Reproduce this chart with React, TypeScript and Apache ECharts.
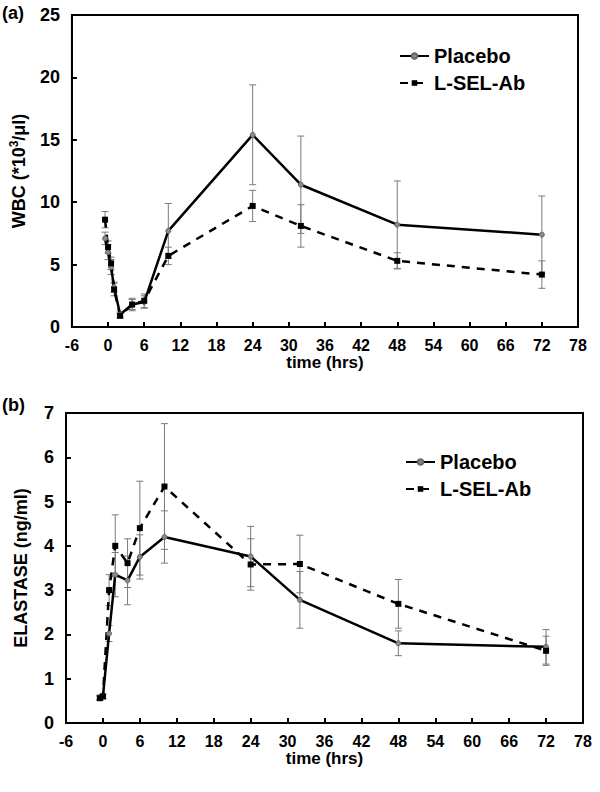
import React, { useEffect, useRef } from "react";
import * as echarts from "echarts";

const FONT = "'Liberation Sans', Arial, Helvetica, sans-serif";

// Panel (a): WBC
const wbcHours = [-0.5, 0, 0.5, 1, 2, 4, 6, 10, 24, 32, 48, 72];
const wbcPlacebo = [7.1, 6.0, 4.8, 3.2, 1.0, 1.8, 2.0, 7.7, 15.4, 11.4, 8.2, 7.4];
const wbcPlaceboErr = [0.5, 0.6, 0.6, 0.4, 0.2, 0.4, 0.5, 2.2, 4.0, 3.9, 3.5, 3.1];
const wbcLsel = [8.6, 6.4, 5.1, 3.0, 0.9, 1.8, 2.1, 5.7, 9.7, 8.1, 5.3, 4.2];
const wbcLselErr = [0.65, 0.5, 0.5, 0.5, 0.2, 0.5, 0.55, 0.7, 1.25, 1.7, 0.65, 1.1];

// Panel (b): Elastase
const elaHours = [-0.5, 0, 1, 2, 4, 6, 10, 24, 32, 48, 72];
const elaPlacebo = [0.58, 0.6, 2.02, 3.35, 3.22, 3.75, 4.2, 3.76, 2.78, 1.8, 1.72];
const elaPlaceboErr = [0.05, 0.05, 0.18, 0.5, 0.55, 0.5, 0.59, 0.68, 0.64, 0.28, 0.39];
const elaLsel = [0.56, 0.6, 3.0, 4.0, 3.61, 4.4, 5.34, 3.58, 3.59, 2.69, 1.63];
const elaLselErr = [0.05, 0.05, 0.35, 0.7, 0.55, 1.06, 1.42, 0.58, 0.65, 0.55, 0.33];

const seriesNames = ["Placebo", "L-SEL-Ab"];

const pairs = (x: number[], y: number[]) => x.map((t, i) => [t, y[i]]);
const errs = (x: number[], y: number[], e: number[]) =>
  x.map((t, i) => [t, y[i] - e[i], y[i] + e[i]]);

const renderErr = (_params: any, api: any) => {
  const x = api.value(0);
  const top = api.coord([x, api.value(2)]);
  const bot = api.coord([x, api.value(1)]);
  const c = 3.5;
  const style = { stroke: "#7a7a7a", lineWidth: 1 };
  return {
    type: "group",
    children: [
      { type: "line", shape: { x1: top[0], y1: top[1], x2: bot[0], y2: bot[1] }, style },
      { type: "line", shape: { x1: top[0] - c, y1: top[1], x2: top[0] + c, y2: top[1] }, style },
      { type: "line", shape: { x1: bot[0] - c, y1: bot[1], x2: bot[0] + c, y2: bot[1] }, style },
    ],
  };
};

const xAxisFor = (gridIndex: number) => ({
  type: "value",
  gridIndex,
  min: -6,
  max: 78,
  interval: 6,
  name: "time (hrs)",
  nameLocation: "middle",
  nameGap: 25,
  nameTextStyle: { color: "#000", fontWeight: "bold", fontSize: 17, fontFamily: FONT },
  axisLine: { show: true, onZero: false, lineStyle: { color: "#000", width: 2 } },
  axisTick: { show: true, inside: true, length: 5, lineStyle: { color: "#000", width: 2 } },
  axisLabel: { color: "#000", fontWeight: "bold", fontSize: 16, margin: 10, fontFamily: FONT },
  splitLine: { show: false },
});

const yAxisFor = (gridIndex: number, max: number, interval: number, name: string, nameGap: number, rich?: any) => ({
  type: "value",
  gridIndex,
  min: 0,
  max,
  interval,
  name,
  nameLocation: "middle",
  nameGap,
  nameTextStyle: { color: "#000", fontWeight: "bold", fontSize: 18, fontFamily: FONT, lineHeight: 21, rich },
  axisLine: { show: true, onZero: false, lineStyle: { color: "#000", width: 2 } },
  axisTick: { show: true, inside: true, length: 5, lineStyle: { color: "#000", width: 2 } },
  axisLabel: { color: "#000", fontWeight: "bold", fontSize: 18, margin: 12, fontFamily: FONT },
  splitLine: { show: false },
});

const lineSeries = (name: string, data: number[][], idx: number) => {
  const placebo = name === seriesNames[0];
  return {
    name,
    type: "line",
    xAxisIndex: idx,
    yAxisIndex: idx,
    data,
    z: 3,
    symbol: placebo ? "circle" : "rect",
    symbolSize: placebo ? 5 : 6,
    itemStyle: placebo ? { color: "#8a8a8a", borderColor: "#666", borderWidth: 1 } : { color: "#000" },
    lineStyle: { color: "#000", width: 2.5, type: placebo ? "solid" : [8, 7] },
  };
};

const legendFor = (left: number, top: number) => ({
  data: seriesNames,
  orient: "vertical",
  left,
  top,
  padding: 0,
  itemWidth: 29,
  itemHeight: 7,
  itemGap: 7,
  textStyle: { color: "#000", fontWeight: "bold", fontSize: 20, lineHeight: 20, fontFamily: FONT },
});

export default function App() {
  const ref = useRef<HTMLDivElement>(null);

  useEffect(() => {
    if (!ref.current) return;
    const chart = echarts.init(ref.current, null, { renderer: "svg" });
    chart.setOption({
      animation: false,
      backgroundColor: "#fff",
      textStyle: { fontFamily: FONT },
      title: [
        { text: "(a)", left: 2, top: 4, padding: 0, textStyle: { fontSize: 18, fontWeight: "bold", color: "#000", fontFamily: FONT } },
        { text: "(b)", left: 2, top: 396, padding: 0, textStyle: { fontSize: 18, fontWeight: "bold", color: "#000", fontFamily: FONT } },
      ],
      legend: [legendFor(399, 46), legendFor(405, 452)],
      grid: [
        { left: 71, right: 22, top: 15, height: 312, show: true, borderColor: "#000", borderWidth: 2 },
        { left: 66, right: 17, top: 413, height: 310, show: true, borderColor: "#000", borderWidth: 2 },
      ],
      xAxis: [xAxisFor(0), xAxisFor(1)],
      yAxis: [
        yAxisFor(0, 25, 5, "WBC (*10{sup|3}/μl)", 40, {
          sup: { fontSize: 12, fontWeight: "bold", fontFamily: FONT, verticalAlign: "top", lineHeight: 21, color: "#000" },
        }),
        yAxisFor(1, 7, 1, "ELASTASE (ng/ml)", 35),
      ],
      series: [
        {
          type: "custom",
          xAxisIndex: 0,
          yAxisIndex: 0,
          z: 1,
          renderItem: renderErr,
          encode: { x: 0, y: [1, 2] },
          data: [...errs(wbcHours, wbcPlacebo, wbcPlaceboErr), ...errs(wbcHours, wbcLsel, wbcLselErr)],
        },
        {
          type: "custom",
          xAxisIndex: 1,
          yAxisIndex: 1,
          z: 1,
          renderItem: renderErr,
          encode: { x: 0, y: [1, 2] },
          data: [...errs(elaHours, elaPlacebo, elaPlaceboErr), ...errs(elaHours, elaLsel, elaLselErr)],
        },
        lineSeries(seriesNames[0], pairs(wbcHours, wbcPlacebo), 0),
        lineSeries(seriesNames[1], pairs(wbcHours, wbcLsel), 0),
        lineSeries(seriesNames[0], pairs(elaHours, elaPlacebo), 1),
        lineSeries(seriesNames[1], pairs(elaHours, elaLsel), 1),
      ],
    });
    return () => chart.dispose();
  }, []);

  return <div ref={ref} style={{ position: "absolute", left: 0, top: 0, width: 600, height: 792 }} />;
}
